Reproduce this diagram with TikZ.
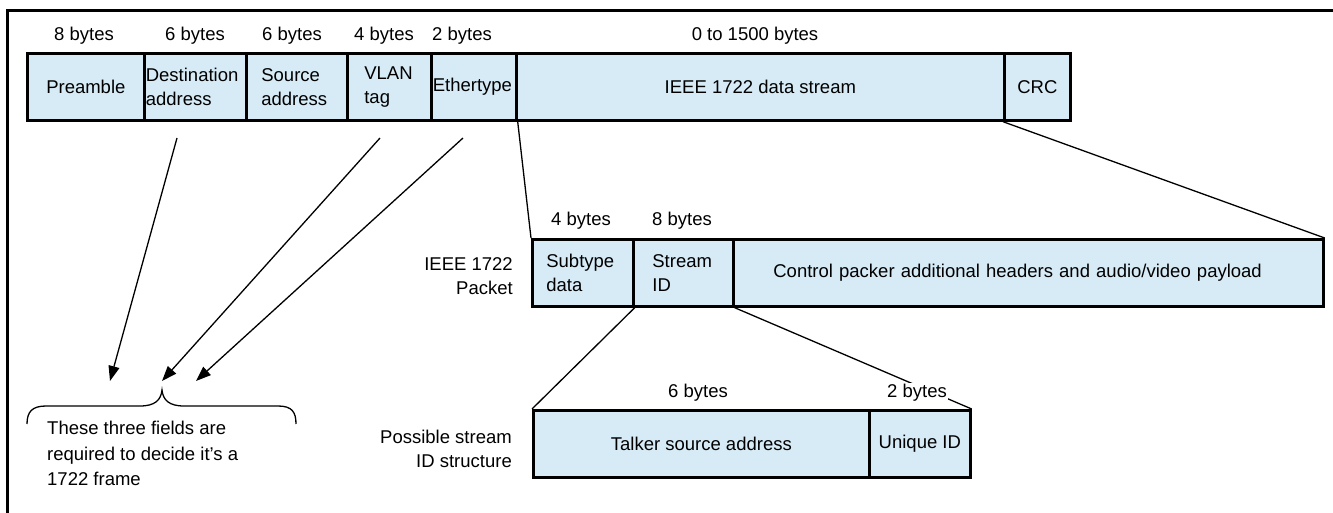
\documentclass[tikz,border=0pt]{standalone}
\usepackage{fontspec}
\setmainfont{Liberation Sans}
\usetikzlibrary{arrows.meta}
\definecolor{boxblue}{RGB}{214,235,246}
\tikzset{
  field/.style={draw=black, line width=2.7pt, fill=boxblue, minimum height=67pt, inner sep=0pt, anchor=north west, font=\fontsize{18.5}{24}\selectfont},
  lfield/.style={field, align=left, text width=#1},
  lbl/.style={inner sep=1pt, font=\fontsize{18.5}{24}\selectfont},
  conn/.style={draw=black, line width=1.3pt},
  arr/.style={conn, -{Triangle[length=15pt,width=11pt]}},
}
\begin{document}
\begin{tikzpicture}[x=1pt,y=-1pt]
\useasboundingbox (0,0) rectangle (1333,513);
% frame
\draw[line width=3pt] (1333,11) -- (7,11) -- (7,513);
% top row
\node[field, minimum width=117pt] (pre) at (26,52) {Preamble};
\node[lfield=99pt, minimum width=102pt, inner xsep=1.5pt] (dst) at (143,52) {Destination\\address};
\node[lfield=71pt, minimum width=101pt, inner xsep=15pt] (src) at (245,52) {Source\\address};
\node[lfield=50pt, minimum width=84pt, inner xsep=17pt] (vlan) at (346,52) {VLAN\\tag};
\node[lfield=82pt, minimum width=85pt, inner xsep=1.5pt] (eth) at (430,52) {Ethertype};
\node[field, minimum width=488pt] (data) at (515,52) {IEEE 1722 data stream};
\node[field, minimum width=66pt] (crc) at (1003,52) {CRC};
% top byte labels
\node[lbl] (b1) at (84,36) {8 bytes};
\node[lbl] (b2) at (195,36) {6 bytes};
\node[lbl] (b3) at (292,36) {6 bytes};
\node[lbl] (b4) at (384,36) {4 bytes};
\node[lbl] (b5) at (462,36) {2 bytes};
\node[lbl] (b6) at (755,36) {0 to 1500 bytes};
% packet row
\node[lfield=73pt, minimum width=101pt, inner xsep=14pt] (sub) at (531,238) {Subtype\\data};
\node[lfield=62pt, minimum width=100pt, inner xsep=19pt] (sid) at (632,238) {Stream\\ID};
\node[lfield=550pt, minimum width=590pt, inner xsep=20pt] (ctl) at (732,238) {\hspace*{20pt}Control packer additional headers and audio/video payload};
\node[lbl] (p1) at (581,221) {4 bytes};
\node[lbl] (p2) at (682,221) {8 bytes};
\node[lbl, anchor=east, align=right] (plbl) at (514,276) {IEEE 1722\\Packet};
% structure row
\node[field, minimum width=336pt] (tsa) at (532,409) {Talker source address};
\node[field, minimum width=101pt] (uid) at (868,409) {Unique ID};
\node[lbl, anchor=east, align=right] (slbl) at (513,449) {Possible stream\\ID structure};
% connectors
\draw[conn] (eth.south east) -- (sub.north west);
\draw[conn] (crc.south west) -- (ctl.north east);
\draw[conn] (sub.south east) -- (tsa.north west);
\draw[conn] (sid.south east) -- (uid.north east);
\node[lbl] (s1) at (698,393) {6 bytes};
\node[lbl, fill=white] (s2) at (917,393) {2 bytes};
% arrows
\coordinate (a1s) at (177,138); \coordinate (a1e) at (110,381);
\coordinate (a2s) at (380,138); \coordinate (a2e) at (162,381);
\coordinate (a3s) at (463,138); \coordinate (a3e) at (196,381);
\draw[arr] (a1s) -- (a1e);
\draw[arr] (a2s) -- (a2e);
\draw[arr] (a3s) -- (a3e);
% brace
\draw[line width=1.3pt] (27,424) .. controls (27,412) and (32,406) .. (46,406) -- (140,406) .. controls (155,406) and (161,400) .. (162,390) .. controls (163,400) and (169,406) .. (184,406) -- (278,406) .. controls (292,406) and (296,412) .. (296,424);
\node[lbl, anchor=north west, align=left, font=\fontsize{18.5}{25.5}\selectfont] (note) at (46,420) {These three fields are\\required to decide it’s a\\1722 frame};
\end{tikzpicture}
\end{document}
